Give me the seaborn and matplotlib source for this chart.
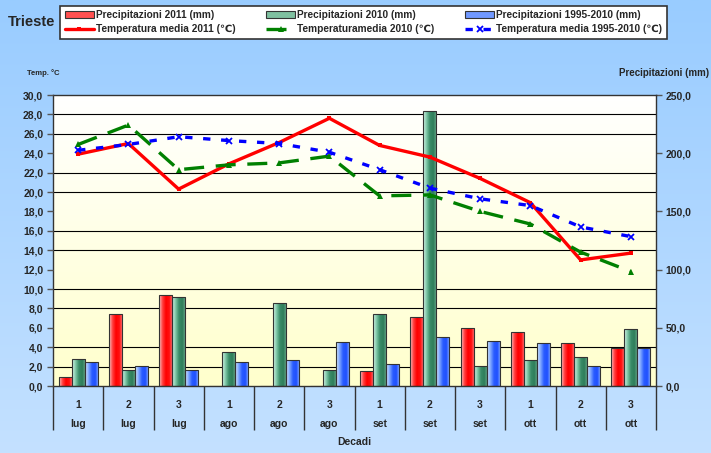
import numpy as np
import pandas as pd
import matplotlib
matplotlib.use("Agg")
import matplotlib.pyplot as plt
import seaborn as sns
from matplotlib.colors import LinearSegmentedColormap
from matplotlib.patches import Patch
from matplotlib.ticker import FixedLocator

# ---------------- data ----------------
decadi = ['1', '2', '3', '1', '2', '3', '1', '2', '3', '1', '2', '3']
mesi = ['lug', 'lug', 'lug', 'ago', 'ago', 'ago', 'set', 'set', 'set', 'ott', 'ott', 'ott']
prec_2011 = [8.0, 62.0, 78.5, 0.0, 0.0, 0.0, 12.5, 59.0, 49.5, 46.0, 37.0, 33.0]
prec_2010 = [23.0, 14.0, 76.5, 29.5, 71.0, 14.0, 62.0, 236.5, 17.0, 22.5, 25.0, 49.0]
prec_clim = [20.5, 17.0, 13.5, 20.5, 22.5, 38.0, 18.5, 42.0, 38.5, 37.0, 17.5, 32.5]
temp_2011 = [23.9, 25.0, 20.3, 22.9, 25.1, 27.6, 24.8, 23.6, 21.4, 18.9, 13.0, 13.7]
temp_2010 = [24.9, 26.9, 22.3, 22.8, 23.0, 23.7, 19.6, 19.7, 18.0, 16.7, 13.8, 11.8]
temp_clim = [24.3, 24.9, 25.7, 25.3, 25.0, 24.1, 22.3, 20.4, 19.3, 18.6, 16.4, 15.4]

lab_p2011 = 'Precipitazioni 2011 (mm)'
lab_p2010 = 'Precipitazioni 2010 (mm)'
lab_pclim = 'Precipitazioni 1995-2010 (mm)'
lab_t2011 = 'Temperatura media 2011 (\u2103)'
lab_t2010 = 'Temperaturamedia 2010 (\u2103)'
lab_tclim = 'Temperatura media 1995-2010 (\u2103)'

cats = [f'{d}_{i}' for i, d in enumerate(decadi)]
df = pd.DataFrame({
    'cat': cats * 3,
    'val': prec_2011 + prec_2010 + prec_clim,
    'serie': [lab_p2011] * 12 + [lab_p2010] * 12 + [lab_pclim] * 12,
})

# ---------------- style ----------------
sns.set_theme(style='white')
plt.rcParams['font.family'] = ['Liberation Sans', 'DejaVu Sans']
plt.rcParams['font.weight'] = 'bold'

fig = plt.figure(figsize=(7.11, 4.53), dpi=100)

# figure background gradient
bg = fig.add_axes([0, 0, 1, 1], zorder=-10)
bg_cmap = LinearSegmentedColormap.from_list('bg', ['#c4e1ff', '#99ccff'])
bg.imshow(np.linspace(0, 1, 256).reshape(-1, 1)[::-1], aspect='auto',
          cmap=bg_cmap, extent=[0, 1, 0, 1])
bg.axis('off')

ax = fig.add_axes([53 / 711, 1 - 386 / 453, 603 / 711, 291 / 453])
ax.patch.set_visible(False)

# plot area gradient (white top -> light yellow bottom)
pa_cmap = LinearSegmentedColormap.from_list('pa', ['#ffffcc', '#ffffff'])
ax.imshow(np.linspace(0, 1, 256).reshape(-1, 1)[::-1], aspect='auto',
          cmap=pa_cmap, extent=[0, 1, 0, 1], transform=ax.transAxes, zorder=0)

palette = {lab_p2011: '#ff2020', lab_p2010: '#4f9f7a', lab_pclim: '#3f6fff'}
sns.barplot(data=df, x='cat', y='val', hue='serie', palette=palette,
            order=cats, hue_order=[lab_p2011, lab_p2010, lab_pclim],
            width=0.78, ax=ax, legend=False, saturation=1,
            edgecolor='#333333', linewidth=0.8, zorder=3)

grad_cmaps = [
    LinearSegmentedColormap.from_list('r', ['#ffc8c8', '#ff4040', '#ff0000', '#ff1010', '#ff8080']),
    LinearSegmentedColormap.from_list('g', ['#d8f5ea', '#80c8a8', '#3a8c68', '#2e7d5a', '#70b090']),
    LinearSegmentedColormap.from_list('b', ['#d8ecff', '#80a8ff', '#2a5cff', '#2050ff', '#90b8ff']),
]
grad = np.linspace(0, 1, 64).reshape(1, -1)
for cont, cm in zip(ax.containers, grad_cmaps):
    for bar in cont:
        h = bar.get_height()
        bar.set_facecolor('none')
        if h <= 0:
            continue
        x0, y0, w = bar.get_x(), bar.get_y(), bar.get_width()
        im = ax.imshow(grad, aspect='auto', cmap=cm,
                       extent=[x0, x0 + w, y0, y0 + h], zorder=2.5)
        im.set_clip_path(bar)

ax.set_xlim(-0.5, 11.5)
ax.set_ylim(0, 250)
ax.set_xlabel('Decadi', fontsize=7.5, fontweight='bold', labelpad=1)
ax.set_ylabel('')

# gridlines at every 2 degC (== 250/15 mm)
ax.yaxis.set_minor_locator(FixedLocator(np.linspace(0, 250, 16)))
ax.grid(which='minor', axis='y', color='black', linewidth=0.8)
ax.set_axisbelow(True)

ax.set_xticks(range(12))
ax.set_xticklabels([f'{d}\n\n{m}' for d, m in zip(decadi, mesi)],
                   fontsize=7.5, fontweight='bold', linespacing=0.95)
ax.xaxis.set_minor_locator(FixedLocator(np.arange(-0.5, 12.0, 1.0)))
ax.tick_params(axis='x', which='major', length=0, pad=10)
ax.tick_params(axis='x', which='minor', length=32, width=1, color='#333333',
               direction='out', bottom=True)

for s in ax.spines.values():
    s.set_color('#333333')
    s.set_linewidth(1)

# temperature axis
ax2 = ax.twinx()
ax2.set_ylim(0, 30)
ax2.yaxis.tick_left()
ax2.set_yticks(np.arange(0, 31, 2))
ax2.set_yticklabels([f'{v:.1f}'.replace('.', ',') for v in np.arange(0, 31, 2)],
                    fontsize=7.5, fontweight='bold')
ax2.tick_params(axis='y', direction='out', length=4, width=1, color='#555555',
                pad=3, left=True, right=False, labelleft=True, labelright=False)
for s in ax2.spines.values():
    s.set_visible(False)

# precipitation ticks on the right (after twinx, which resets them)
ax.yaxis.tick_right()
ax.yaxis.set_label_position('right')
ax.set_yticks(np.arange(0, 251, 50))
ax.set_yticklabels([f'{v:.1f}'.replace('.', ',') for v in np.arange(0, 251, 50)],
                   fontsize=7.5, fontweight='bold')
ax.tick_params(axis='y', which='major', direction='out', length=4, width=1,
               color='#555555', pad=3, right=True, left=False,
               labelright=True, labelleft=False)
ax.tick_params(axis='y', which='minor', length=0)

pos = np.arange(len(cats))
sns.lineplot(x=pos, y=temp_2011, ax=ax2, color='#ff0000', linewidth=2.4,
             marker='s', markersize=3.5, markeredgewidth=0, label=lab_t2011)
sns.lineplot(x=pos, y=temp_2010, ax=ax2, color='#008000', linewidth=2.4,
             marker='^', markersize=5, markeredgewidth=0, label=lab_t2010,
             dashes=False)
sns.lineplot(x=pos, y=temp_clim, ax=ax2, color='#0000ff', linewidth=2.4,
             marker='x', markersize=4, markeredgewidth=1.3,
             markeredgecolor='#0000ff', label=lab_tclim, dashes=False)
lines = ax2.get_lines()
lines[1].set_dashes((6, 3.5))
lines[2].set_dashes((2.2, 3.2))
lines[2].set_markeredgecolor('#0000ff')
lines[2].set_markerfacecolor('#0000ff')
ax2.get_legend().remove()
ax2.set_xlim(-0.5, 11.5)

# axis titles
fig.text(27 / 711, 1 - 73 / 453, 'Temp. \u00b0C', fontsize=5.5, fontweight='bold',
         va='center', ha='left')
fig.text(709 / 711, 1 - 73 / 453, 'Precipitazioni (mm)', fontsize=7,
         fontweight='bold', va='center', ha='right')
fig.text(8 / 711, 1 - 22 / 453, 'Trieste', fontsize=10.5, fontweight='bold',
         va='center', ha='left')

# legend
handles = [
    Patch(facecolor='#ff5050', edgecolor='#333333', linewidth=0.8), lines[0],
    Patch(facecolor='#7fc0a0', edgecolor='#333333', linewidth=0.8), lines[1],
    Patch(facecolor='#7098ff', edgecolor='#333333', linewidth=0.8), lines[2],
]
labels = [lab_p2011, lab_t2011, lab_p2010, lab_t2010, lab_pclim, lab_tclim]
leg = fig.legend(handles, labels, ncol=3, loc='lower left', mode='expand',
                 bbox_to_anchor=(60 / 711, 1 - 39 / 453, 607 / 711, 34 / 453),
                 frameon=True, fancybox=False, edgecolor='#333333',
                 framealpha=1, facecolor='white', handlelength=2.9,
                 handletextpad=0.2, borderpad=0.45, labelspacing=0.4,
                 borderaxespad=0, columnspacing=1.0,
                 prop={'weight': 'bold', 'size': 7.3})
leg.get_frame().set_linewidth(1.2)

fig.savefig('out.png', dpi=100)
